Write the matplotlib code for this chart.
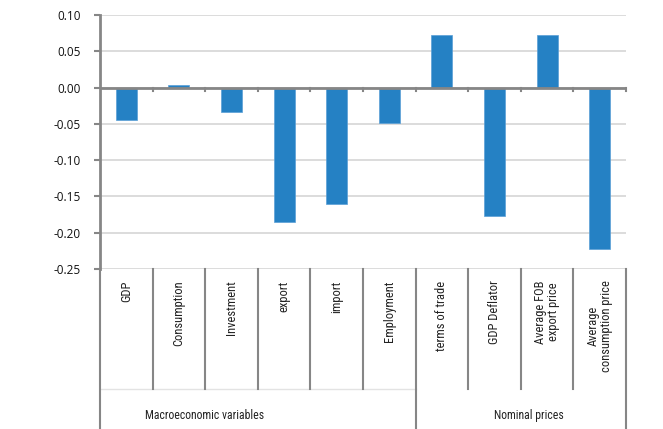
import numpy as np
import matplotlib
matplotlib.use('Agg')
import matplotlib.pyplot as plt
import matplotlib.transforms as mtransforms

# data
categories = ['GDP', 'Consumption', 'Investment', 'export', 'import', 'Employment',
              'terms of trade', 'GDP Deflator', 'Average FOB\nexport price',
              'Average\nconsumption price']
values = [-0.044, 0.004, -0.033, -0.185, -0.161, -0.049,
          0.0725, -0.177, 0.0725, -0.223]
groups = ['Macroeconomic variables', 'Nominal prices']
group_sizes = [6, 4]

bar_color = '#2581c4'
grid_color = '#d9d9d9'
axis_color = '#868686'
narrow = ['Roboto Condensed', 'Roboto', 'DejaVu Sans']

fig = plt.figure(figsize=(6.63, 4.29), dpi=100)
ax = fig.add_axes([100/663, 1 - 269/429, 526/663, 254/429])

x = np.arange(len(categories))
ax.bar(x, values, width=0.4, color=bar_color, edgecolor='#5a9fd6', linewidth=0.5, zorder=3)

ax.set_xlim(-0.5, len(categories) - 0.5)
ax.set_ylim(-0.25, 0.10)
yt = np.arange(-0.25, 0.101, 0.05)
ax.set_yticks(yt)
ax.set_yticklabels(['%.2f' % v if abs(v) > 1e-9 else '0.00' for v in yt],
                   fontsize=8.5, family=['Open Sans', 'DejaVu Sans'], color='#111111')
ax.tick_params(axis='y', direction='out', length=4, width=1.5, color=axis_color, pad=10)
ax.set_xticks([])
ax.yaxis.grid(True, color=grid_color, linewidth=1.3, zorder=0)
ax.set_axisbelow(True)

for s in ['top', 'right', 'bottom']:
    ax.spines[s].set_visible(False)
ax.spines['left'].set_color(axis_color)
ax.spines['left'].set_linewidth(2)

# zero line with small ticks at category boundaries
ax.axhline(0, color=axis_color, linewidth=2, zorder=4)
bounds = np.arange(len(categories) + 1) - 0.5
trans = mtransforms.blended_transform_factory(ax.transData, ax.transAxes)
zero_frac = (0 - (-0.25)) / 0.35
for b in bounds[1:]:
    ax.plot([b, b], [zero_frac, zero_frac - 0.015], transform=trans, color=axis_color,
            linewidth=1.5, clip_on=False, zorder=4)

# category separators below the axis
group_edges = np.concatenate([[0], np.cumsum(group_sizes)]) - 0.5
for b in bounds:
    low = -0.63 if b in group_edges else -0.472
    ax.plot([b, b], [0, low], transform=trans, color=axis_color, linewidth=1.5,
            clip_on=False, zorder=4)
ax.plot([bounds[0], group_edges[1]], [-0.472, -0.472], transform=trans,
        color='#e3e3e3', linewidth=1, clip_on=False)

for xi, lab in zip(x, categories):
    ax.text(xi, -0.045, lab, transform=trans, rotation=90, ha='center', va='top',
            multialignment='center', linespacing=1.05, fontsize=9, family=narrow,
            color='#222222')

group_x = [1.48, 7.65]
for gx, g in zip(group_x, groups):
    ax.text(gx, -0.575, g, transform=trans, ha='center', va='center',
            fontsize=8.5, family=narrow, color='#222222')

fig.savefig('out.png', dpi=100)
